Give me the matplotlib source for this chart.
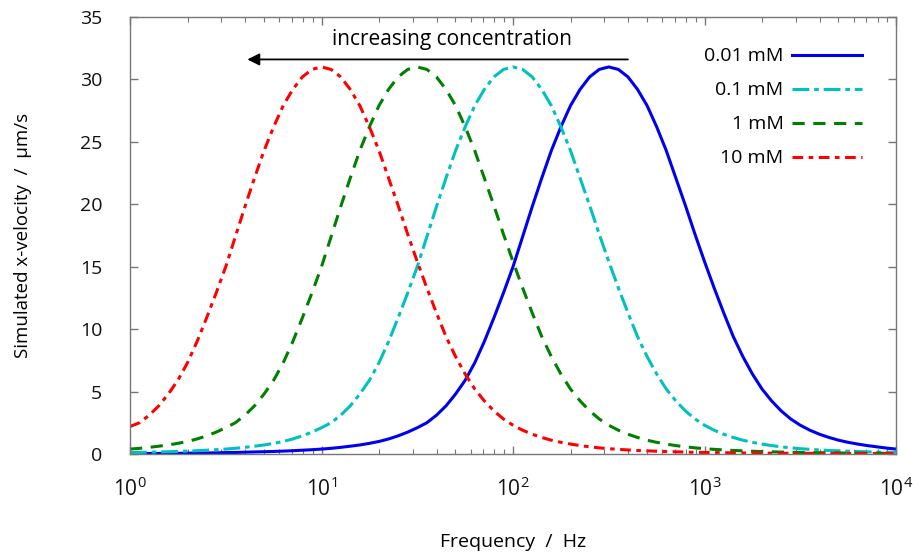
import matplotlib
matplotlib.use('Agg')
import matplotlib.pyplot as plt
import numpy as np

plt.rcParams['font.family'] = ['Open Sans', 'DejaVu Sans']
plt.rcParams['mathtext.default'] = 'regular'

log_freq = [0.0, 0.05, 0.1, 0.15, 0.2, 0.25, 0.3, 0.35, 0.4, 0.45,
            0.5, 0.55, 0.6, 0.65, 0.7, 0.75, 0.8, 0.85, 0.9, 0.95,
            1.0, 1.05, 1.1, 1.15, 1.2, 1.25, 1.3, 1.35, 1.4, 1.45,
            1.5, 1.55, 1.6, 1.65, 1.7, 1.75, 1.8, 1.85, 1.9, 1.95,
            2.0, 2.05, 2.1, 2.15, 2.2, 2.25, 2.3, 2.35, 2.4, 2.45,
            2.5, 2.55, 2.6, 2.65, 2.7, 2.75, 2.8, 2.85, 2.9, 2.95,
            3.0, 3.05, 3.1, 3.15, 3.2, 3.25, 3.3, 3.35, 3.4, 3.45,
            3.5, 3.55, 3.6, 3.65, 3.7, 3.75, 3.8, 3.85, 3.9, 3.95, 4.0]

# simulated x-velocity (um/s)
v_001 = [0.03, 0.03, 0.04, 0.04, 0.05, 0.05, 0.06, 0.07, 0.08, 0.09,
         0.11, 0.12, 0.14, 0.16, 0.18, 0.2, 0.23, 0.26, 0.3, 0.34,
         0.39, 0.45, 0.53, 0.62, 0.72, 0.85, 1.0, 1.2, 1.45, 1.75,
         2.1, 2.5, 3.1, 3.85, 4.8, 5.9, 7.3, 9.0, 10.9, 12.9,
         15.0, 17.4, 19.8, 22.1, 24.3, 26.2, 27.9, 29.2, 30.2, 30.8,
         31.0, 30.8, 30.2, 29.2, 27.9, 26.2, 24.3, 22.1, 19.9, 17.6,
         15.4, 13.3, 11.3, 9.4, 7.8, 6.4, 5.2, 4.25, 3.45, 2.8,
         2.3, 1.9, 1.58, 1.32, 1.1, 0.93, 0.79, 0.67, 0.57, 0.47, 0.39]
v_01 = [0.11, 0.12, 0.14, 0.16, 0.18, 0.2, 0.23, 0.26, 0.3, 0.34,
        0.39, 0.45, 0.53, 0.62, 0.72, 0.85, 1.0, 1.2, 1.45, 1.75,
        2.1, 2.5, 3.1, 3.85, 4.8, 5.9, 7.3, 9.0, 10.9, 12.9,
        15.0, 17.4, 19.8, 22.1, 24.3, 26.2, 27.9, 29.2, 30.2, 30.8,
        31.0, 30.8, 30.2, 29.2, 27.9, 26.2, 24.3, 22.1, 19.9, 17.6,
        15.4, 13.3, 11.3, 9.4, 7.8, 6.4, 5.2, 4.25, 3.45, 2.8,
        2.3, 1.9, 1.58, 1.32, 1.1, 0.93, 0.79, 0.67, 0.57, 0.49,
        0.42, 0.37, 0.32, 0.28, 0.25, 0.22, 0.19, 0.17, 0.15, 0.13, 0.12]
v_1 = [0.39, 0.45, 0.53, 0.62, 0.72, 0.85, 1.0, 1.2, 1.45, 1.75,
       2.1, 2.5, 3.1, 3.85, 4.8, 5.9, 7.3, 9.0, 10.9, 12.9,
       15.0, 17.4, 19.8, 22.1, 24.3, 26.2, 27.9, 29.2, 30.2, 30.8,
       31.0, 30.8, 30.2, 29.2, 27.9, 26.2, 24.3, 22.1, 19.9, 17.6,
       15.4, 13.3, 11.3, 9.4, 7.8, 6.4, 5.2, 4.25, 3.45, 2.8,
       2.3, 1.9, 1.58, 1.32, 1.1, 0.93, 0.79, 0.67, 0.57, 0.49,
       0.42, 0.37, 0.32, 0.28, 0.25, 0.22, 0.19, 0.17, 0.15, 0.13,
       0.12, 0.11, 0.1, 0.09, 0.08, 0.07, 0.07, 0.06, 0.06, 0.05, 0.05]
v_10 = [2.2, 2.5, 3.1, 3.85, 4.8, 5.9, 7.3, 9.0, 10.9, 12.9,
        15.0, 17.4, 19.8, 22.1, 24.3, 26.2, 27.9, 29.2, 30.2, 30.8,
        31.0, 30.8, 30.2, 29.2, 27.9, 26.2, 24.3, 22.1, 19.9, 17.6,
        15.4, 13.3, 11.3, 9.4, 7.8, 6.4, 5.2, 4.25, 3.45, 2.8,
        2.3, 1.9, 1.58, 1.32, 1.1, 0.93, 0.79, 0.67, 0.57, 0.49,
        0.42, 0.37, 0.32, 0.28, 0.25, 0.22, 0.19, 0.17, 0.15, 0.13,
        0.12, 0.11, 0.1, 0.09, 0.08, 0.07, 0.07, 0.06, 0.06, 0.05,
        0.05, 0.05, 0.04, 0.04, 0.04, 0.04, 0.03, 0.03, 0.03, 0.03, 0.03]

labels = ['0.01 mM', '0.1 mM', '1 mM', '10 mM']
x_ticks = [1, 10, 100, 1000, 10000]
y_ticks = [0, 5, 10, 15, 20, 25, 30, 35]

freq = 10 ** np.array(log_freq)

fig = plt.figure(figsize=(9.2, 5.57), dpi=100)
ax = fig.add_axes([0.1413, 0.185, 0.8327, 0.7845])

lw = 2.2
ax.plot(freq, v_001, color='#0000ee', lw=lw, label=labels[0])
ax.plot(freq, v_01, color='#00c0c0', lw=lw, dashes=(5.5, 1.6, 1.5, 1.6), label=labels[1])
ax.plot(freq, v_1, color='#008000', lw=lw, dashes=(4, 2.8), label=labels[2])
ax.plot(freq, v_10, color='#ff0000', lw=lw, dashes=(3.5, 1.8, 1.5, 1.8), label=labels[3])

ax.set_xscale('log')
ax.set_xlim(1, 10000)
ax.set_ylim(0, 35)
ax.set_xticks(x_ticks)
ax.set_xticklabels([r'$10^{%d}$' % int(np.log10(t)) for t in x_ticks], fontsize=15)
ax.set_yticks(y_ticks)
ax.set_yticklabels([str(t) for t in y_ticks])

for s in ax.spines.values():
    s.set_color('#777777')
    s.set_linewidth(1.0)
ax.tick_params(which='both', direction='in', top=True, right=True, color='#777777',
               labelcolor='#111111')
ax.tick_params(axis='y', labelsize=14, pad=20)
ax.tick_params(which='major', length=6, width=1)
ax.tick_params(which='minor', length=3.5, width=0.8)
ax.tick_params(axis='x', pad=17)

ax.set_xlabel('Frequency  /  Hz', fontsize=14, labelpad=23)
ax.set_ylabel('Simulated x-velocity  /  \u03bcm/s', fontsize=13.5, labelpad=34)

# arrow and note
ax.annotate('', xy=(4.1, 31.6), xytext=(398, 31.6),
            arrowprops=dict(arrowstyle='-|>', color='black', lw=1.3,
                            mutation_scale=18, shrinkA=0, shrinkB=0))
ax.text(48, 33.2, 'increasing concentration', ha='center', va='center', fontsize=15)

ax.legend(loc='upper right', bbox_to_anchor=(0.966, 0.948), frameon=False, markerfirst=False,
          fontsize=14, handlelength=3.6, handletextpad=0.45, labelspacing=0.82,
          borderaxespad=0)

fig.savefig('out.png', dpi=100)
